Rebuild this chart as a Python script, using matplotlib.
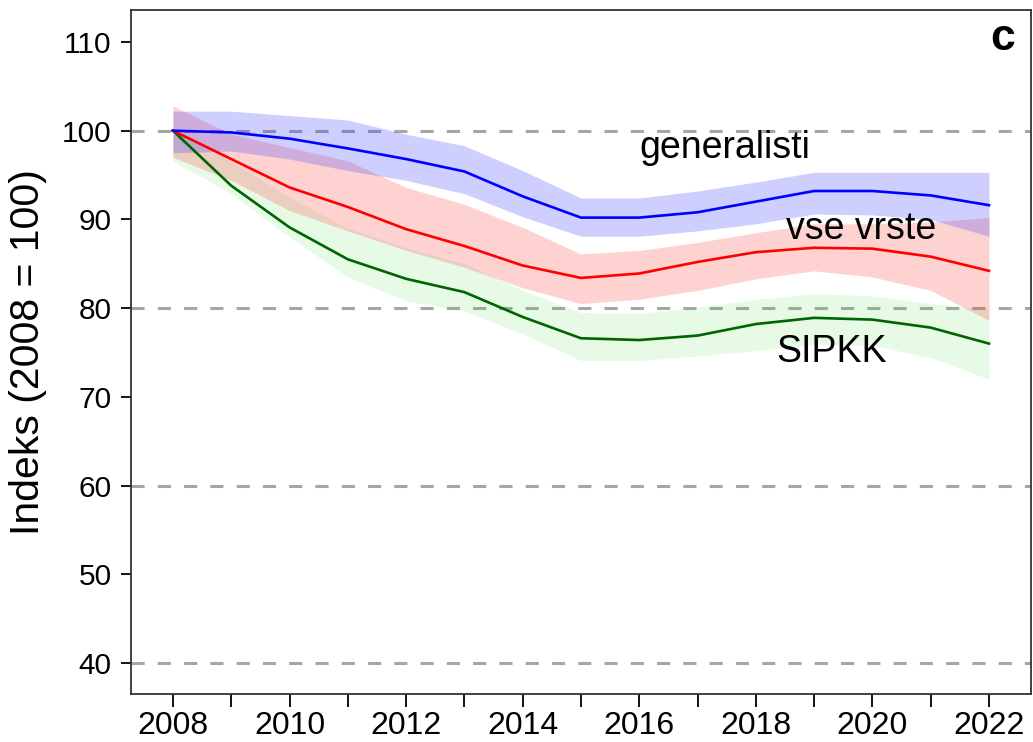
import numpy as np
import matplotlib.pyplot as plt

plt.rcParams['font.family'] = ['Liberation Sans', 'DejaVu Sans']

years = np.arange(2008, 2023)

# generalisti
gen_mean = [100.0, 99.8, 99.1, 98.0, 96.8, 95.4, 92.6, 90.2, 90.2, 90.8, 92.0, 93.2, 93.2, 92.7, 91.6]
gen_low = [97.5, 97.7, 96.8, 95.5, 94.4, 92.9, 90.3, 88.1, 88.1, 88.7, 89.5, 90.6, 90.5, 90.0, 88.1]
gen_high = [102.2, 102.2, 101.7, 101.2, 99.6, 98.3, 95.5, 92.4, 92.4, 93.2, 94.2, 95.3, 95.3, 95.3, 95.3]

# vse vrste
all_mean = [100.0, 96.8, 93.6, 91.4, 88.9, 87.0, 84.8, 83.4, 83.9, 85.2, 86.3, 86.8, 86.7, 85.8, 84.2]
all_low = [97.0, 94.4, 91.0, 88.7, 86.5, 84.6, 82.3, 80.5, 81.0, 82.0, 83.3, 84.2, 83.5, 82.0, 78.6]
all_high = [102.8, 99.6, 98.1, 96.6, 93.6, 91.7, 89.1, 86.1, 86.5, 87.4, 88.5, 89.5, 89.5, 89.7, 90.2]

# SIPKK
sip_mean = [100.0, 93.8, 89.1, 85.5, 83.3, 81.8, 79.0, 76.6, 76.4, 76.9, 78.2, 78.9, 78.7, 77.8, 76.0]
sip_low = [96.6, 92.9, 88.0, 83.5, 80.8, 79.7, 77.1, 74.1, 74.1, 74.6, 75.2, 75.9, 75.8, 74.4, 72.0]
sip_high = [100.0, 96.5, 92.5, 89.0, 86.8, 85.0, 82.0, 79.5, 79.4, 80.1, 81.0, 81.6, 81.4, 80.5, 79.9]

y_ticks = [40, 50, 60, 70, 80, 90, 100, 110]
grid_levels = [40, 60, 80, 100]
x_ticks = np.arange(2008, 2023, 2)

fig = plt.figure(figsize=(10.33, 7.42), dpi=100)
ax = fig.add_axes([0.1268, 0.0647, 0.8712, 0.9218])

for lvl in grid_levels:
    ax.axhline(lvl, color='#a6a6a6', lw=2.2, ls=(0, (4.3, 4.3)), zorder=1)

# confidence bands
ax.fill_between(years, sip_low, sip_high, color='#33dd33', alpha=0.12, lw=0, zorder=2)
ax.fill_between(years, all_low, all_high, color='#ff3333', alpha=0.22, lw=0, zorder=2)
ax.fill_between(years, gen_low, gen_high, color='#3333ff', alpha=0.24, lw=0, zorder=2)

# trend lines
ax.plot(years, sip_mean, color='#006400', lw=1.9, zorder=3)
ax.plot(years, all_mean, color='#ff0000', lw=1.9, zorder=3)
ax.plot(years, gen_mean, color='#0000ff', lw=1.9, zorder=3)

ax.text(2017.47, 98.0, 'generalisti', fontsize=27, ha='center', va='center')
ax.text(2019.8, 88.9, 'vse vrste', fontsize=27, ha='center', va='center')
ax.text(2019.3, 75.0, 'SIPKK', fontsize=27, ha='center', va='center')
ax.text(0.969, 0.959, 'c', transform=ax.transAxes, fontsize=32, fontweight='bold',
        ha='center', va='center')

ax.set_xlim(2007.28, 2022.72)
ax.set_ylim(36.5, 113.6)
ax.set_yticks(y_ticks)
ax.set_xticks(x_ticks)
ax.set_xticks(years, minor=True)
ax.tick_params(axis='y', labelsize=21.5, length=7, width=1.3, pad=7)
ax.tick_params(axis='x', which='both', labelsize=23, length=9, width=1.3, pad=3)
ax.set_ylabel('Indeks (2008 = 100)', fontsize=29.5, labelpad=11)

for s in ax.spines.values():
    s.set_linewidth(1.3)
    s.set_color('#333333')

fig.savefig('out.png', dpi=100)
